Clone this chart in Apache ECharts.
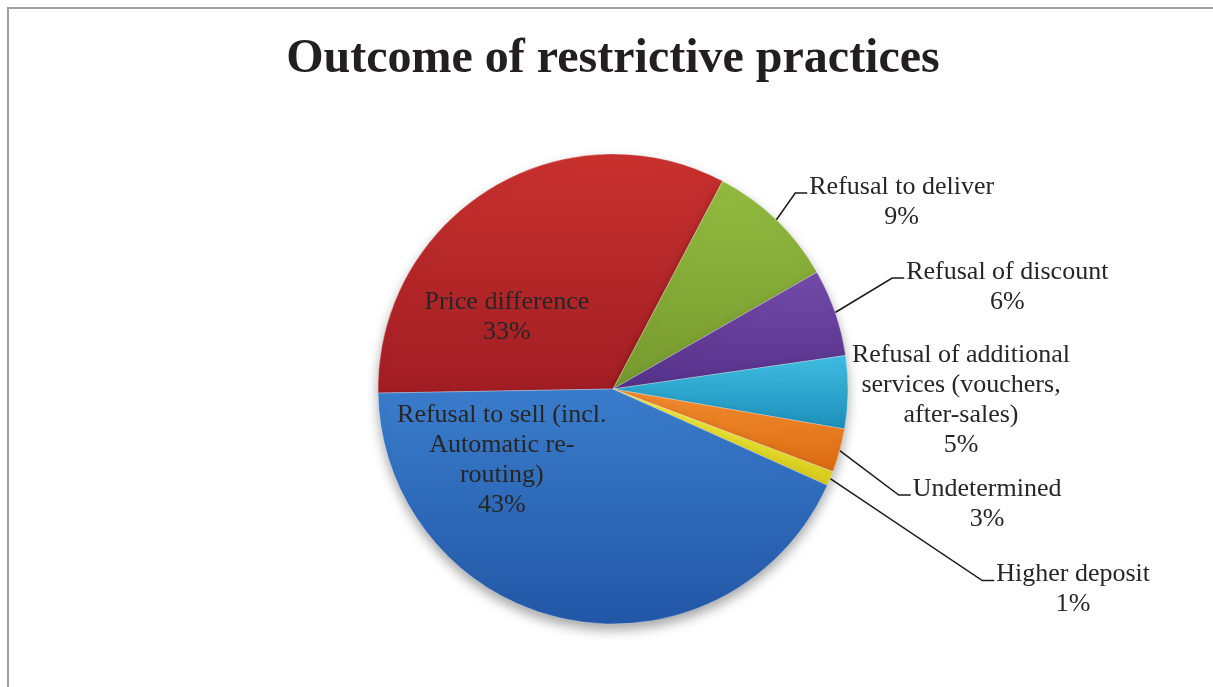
<!DOCTYPE html>
<html>
<head>
<meta charset="utf-8">
<script src="https://cdn.jsdelivr.net/npm/echarts@6/dist/echarts.min.js"></script>
<style>
  html, body { margin: 0; padding: 0; background: #fff; }
  #frame { position: absolute; left: 7px; top: 7px; right: 0; bottom: 0; border-left: 2px solid #a0a0a0; border-top: 2px solid #a0a0a0; }
  #chart { position: absolute; left: 0; top: 0; width: 1213px; height: 687px; }
</style>
</head>
<body>
<div id="frame"></div>
<div id="chart"></div>
<script>
// ---- data ----
const titleText = 'Outcome of restrictive practices';
const categories = [
  'Price difference',
  'Refusal to deliver',
  'Refusal of discount',
  'Refusal of additional services (vouchers, after-sales)',
  'Undetermined',
  'Higher deposit',
  'Refusal to sell (incl. Automatic re-routing)'
];
const values = [33, 9, 6, 5, 3, 1, 43];
const labelTexts = [
  'Price difference',
  'Refusal to deliver',
  'Refusal of discount',
  'Refusal of additional\nservices (vouchers,\nafter-sales)',
  'Undetermined',
  'Higher deposit',
  'Refusal to sell (incl.\nAutomatic re-\nrouting)'
];

// ---- styles ----
const colorPairs = [
  ['#c8312e', '#a11d23'],
  ['#93bb40', '#769a2e'],
  ['#734ca9', '#56318b'],
  ['#40bde2', '#1c8fba'],
  ['#f38d30', '#dc6a10'],
  ['#f2ee40', '#d8cc1c'],
  ['#3a7dcc', '#2256a6']
];
// label offsets from the slice edge (dx, dy) and whether a leader line is drawn
const labelOffsets = [
  [-43, 31, false],
  [33, -18, true],
  [71, -25.5, true],
  [4, 8, false],
  [73, 53.4, true],
  [166, 111, true],
  [-87, -47, false]
];
const insideIdx = [0, 6];

const chart = echarts.init(document.getElementById('chart'));
const fontFamily = '"Liberation Serif", "Times New Roman", serif';

const seriesData = categories.map((c, i) => ({
  name: c,
  value: values[i],
  itemStyle: {
    color: new echarts.graphic.LinearGradient(0, 0, 0, 1, [
      { offset: 0, color: colorPairs[i][0] },
      { offset: 1, color: colorPairs[i][1] }
    ])
  },
  label: {
    position: insideIdx.indexOf(i) >= 0 ? 'inside' : 'outside'
  },
  labelLine: { show: labelOffsets[i][2] }
}));

chart.setOption({
  animation: false,
  title: {
    text: titleText,
    left: 608,
    textAlign: 'center',
    top: 31,
    textStyle: { fontFamily: fontFamily, fontSize: 48, fontWeight: 'bold', color: '#231f20' }
  },
  series: [{
    type: 'pie',
    center: [613, 389],
    radius: 235,
    startAngle: 181,
    clockwise: true,
    avoidLabelOverlap: false,
    itemStyle: {
      borderColor: 'rgba(255,255,255,0.3)',
      borderWidth: 1,
      shadowBlur: 12,
      shadowOffsetY: 6,
      shadowColor: 'rgba(0,0,0,0.35)'
    },
    label: {
      show: true,
      distanceToLabelLine: 0,
      formatter: function (p) {
        const lines = labelTexts[p.dataIndex].split('\n');
        return lines.map(l => '{t|' + l + '}').join('\n') + '\n{t|' + Math.round(p.percent) + '%}';
      },
      rich: {
        t: { fontFamily: fontFamily, fontSize: 26, lineHeight: 30, color: '#262626', align: 'center' }
      }
    },
    labelLine: {
      show: true,
      length: 0,
      length2: 0,
      lineStyle: { color: '#1a1a1a', width: 1.5 }
    },
    labelLayout: function (params) {
      const off = labelOffsets[params.dataIndex];
      const res = { dx: off[0], dy: off[1] };
      const pts = params.labelLinePoints;
      if (off[2] && pts && pts.length) {
        const rect = params.labelRect;
        const p1 = pts[0];
        const lineY = rect.y + off[1] + 19;
        const endX = rect.x + off[0] - 2;
        res.labelLinePoints = [[p1[0], p1[1]], [endX - 12, lineY], [endX, lineY]];
      }
      return res;
    },
    data: seriesData
  }]
});
</script>
</body>
</html>
